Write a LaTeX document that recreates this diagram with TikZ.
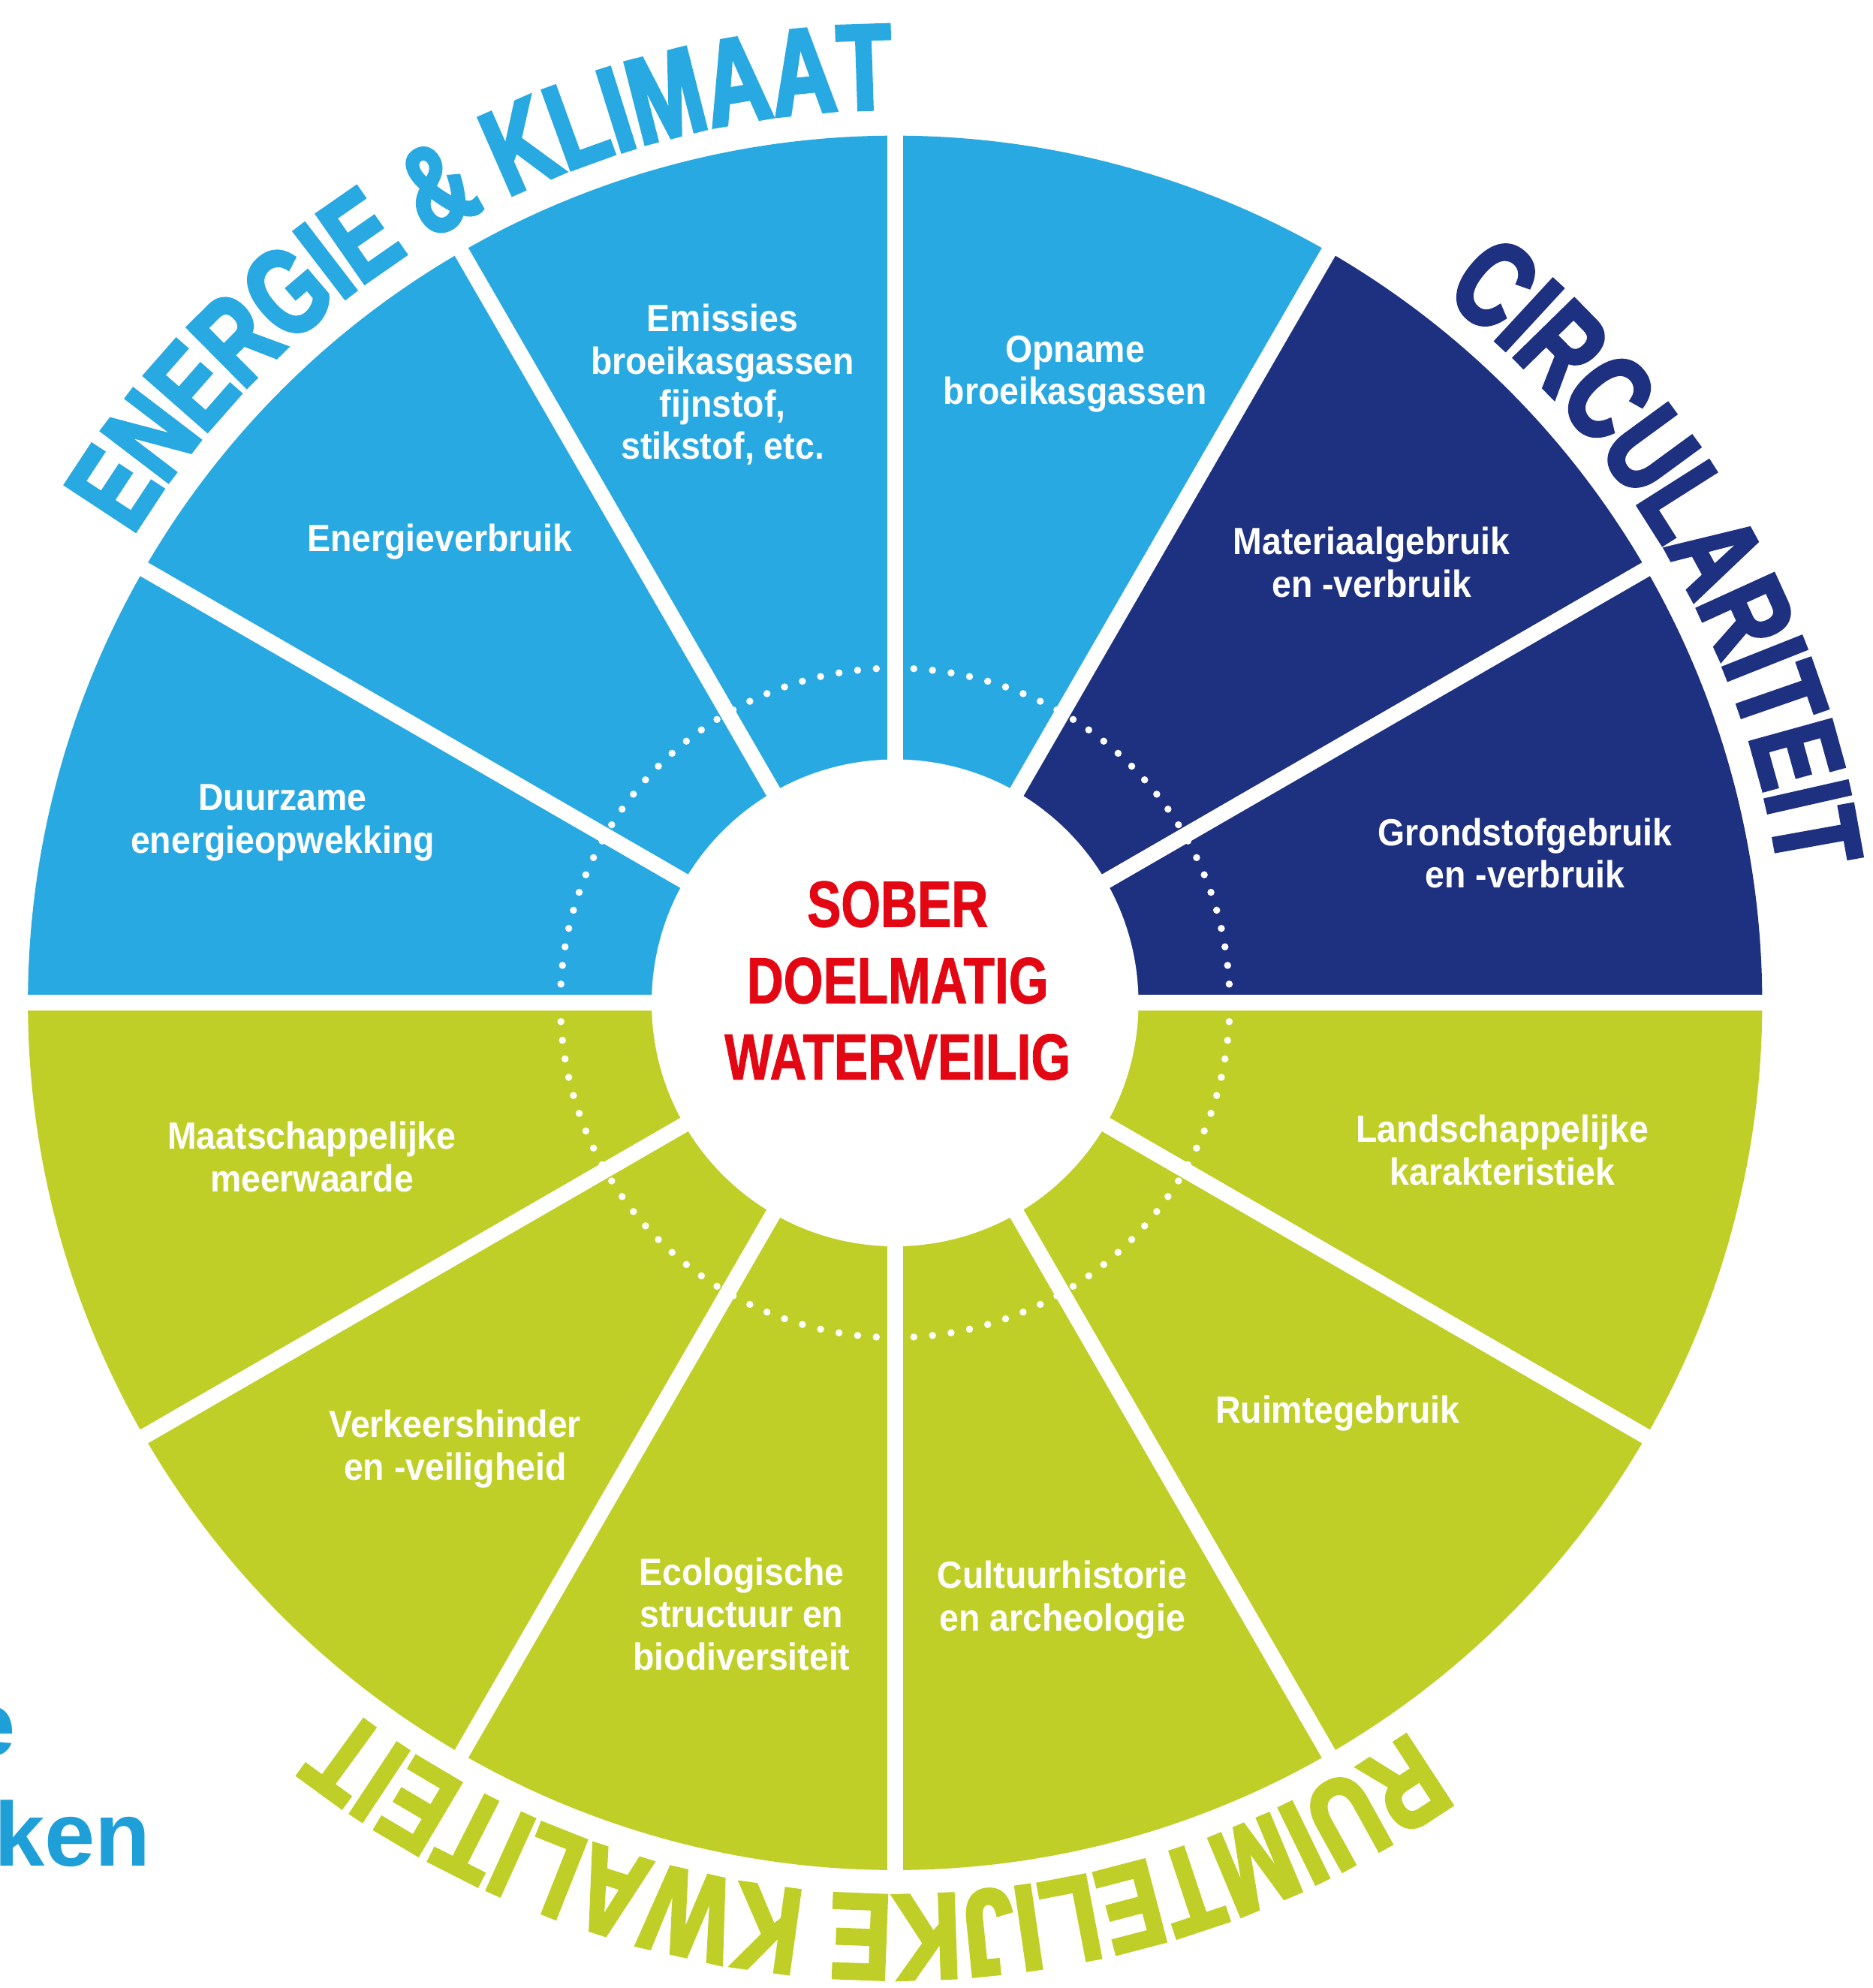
\documentclass[tikz,border=0pt]{standalone}
\usepackage{fontspec}
\setmainfont{Liberation Sans}
\newfontfamily\labfont[FakeStretch=0.92]{Liberation Sans}
\newfontfamily\midfont[FakeStretch=0.78,FakeBold=1]{Liberation Sans}
\newfontfamily\headA[FakeStretch=0.728,FakeBold=3]{Liberation Sans}
\newfontfamily\headB[FakeStretch=0.733,FakeBold=3]{Liberation Sans}
\newfontfamily\headC[FakeStretch=0.757,FakeBold=3]{Liberation Sans}
\usetikzlibrary{decorations.text}
\definecolor{lblue}{HTML}{29A9E1}
\definecolor{navy}{HTML}{1E3080}
\definecolor{lgreen}{HTML}{C0CF28}
\definecolor{sred}{HTML}{E30613}
\definecolor{kblue}{HTML}{1E9FD8}
\begin{document}
\begin{tikzpicture}[x=0.02cm,y=0.02cm,
  seglabel/.style={text=white, align=center, inner sep=0pt,
    font=\labfont\bfseries\fontsize{17}{19.1}\selectfont},
  gapline/.style={white, line width=7pt},
  midtext/.style={text=sred, align=center, inner sep=0pt,
    font=\midfont\bfseries\fontsize{29.3}{34.3}\selectfont},
  fragtext/.style={text=kblue, anchor=base west, inner sep=0pt,
    font=\bfseries\fontsize{40.8}{48}\selectfont},
]
\useasboundingbox (0,0) rectangle (1477,1568);
\coordinate (C) at (706,777);

\begin{scope}[shift={(C)}]
  % segments
  \foreach \ang/\col in {0/navy,30/navy,60/lblue,90/lblue,120/lblue,150/lblue,
                     180/lgreen,210/lgreen,240/lgreen,270/lgreen,300/lgreen,330/lgreen}
    \fill[\col] (0,0) -- (\ang:684) arc[start angle=\ang, end angle=\ang+30, radius=684] -- cycle;
  % white gaps
  \foreach \ang in {0,30,...,330}
    \draw[gapline] (0,0) -- (\ang:698);
  % centre disc
  \fill[white] (0,0) circle[radius=192];
  % dotted ring
  \foreach \k in {0,...,111}{
    \pgfmathsetmacro{\dang}{\k*45/14}
    \fill[white] (\dang:264) circle[radius=2.8];
  }

  % headings along the rim
  \path[decorate, decoration={text along path, text align=center,
      text={|\headA\bfseries\fontsize{54.6}{60}\selectfont\color{lblue}|ENERGIE {\&} KLIMAAT}}]
    (164.35:705) arc[start angle=164.35, end angle=74.35, radius=705];
  \path[decorate, decoration={text along path, text align=center,
      text={|\headB\bfseries\fontsize{54.6}{60}\selectfont\color{navy}|CIRCULARITEIT}}]
    (75.35:705) arc[start angle=75.35, end angle=-14.65, radius=705];
  \path[decorate, decoration={text along path, text align=center,
      text={|\headC\bfseries\fontsize{54.6}{60}\selectfont\color{lgreen}|RUIMTELIJKE KWALITEIT}}]
    (-36.3:704) arc[start angle=-36.3, end angle=-146.3, radius=704];
\end{scope}

% segment labels
\node[seglabel] (emis) at (570,1264.5) {Emissies\\broeikasgassen\\fijnstof,\\stikstof, etc.};
\node[seglabel] (opn) at (848,1273) {Opname\\broeikasgassen};
\node[seglabel] (enr) at (347,1141) {Energieverbruik};
\node[seglabel] (duur) at (223,919) {Duurzame\\energieopwekking};
\node[seglabel] (mat) at (1082,1124.5) {Materiaalgebruik\\en -verbruik};
\node[seglabel] (grond) at (1203,895) {Grondstofgebruik\\en -verbruik};
\node[seglabel] (maat) at (246,655.5) {Maatschappelijke\\meerwaarde};
\node[seglabel] (land) at (1185,661) {Landschappelijke\\karakteristiek};
\node[seglabel] (verk) at (359,425) {Verkeershinder\\en -veiligheid};
\node[seglabel] (ruim) at (1055,453) {Ruimtegebruik};
\node[seglabel] (eco) at (585,295) {Ecologische\\structuur en\\biodiversiteit};
\node[seglabel] (cult) at (838,306) {Cultuurhistorie\\en archeologie};

% centre text
\node[midtext] (mid) at (708,794.5) {SOBER\\DOELMATIG\\WATERVEILIG};

% cut-off text fragments at the left edge
\node[fragtext] (frage) at (-28,183) {e};
\node[fragtext] (fragken) at (-5,96) {ken};
\end{tikzpicture}
\end{document}
